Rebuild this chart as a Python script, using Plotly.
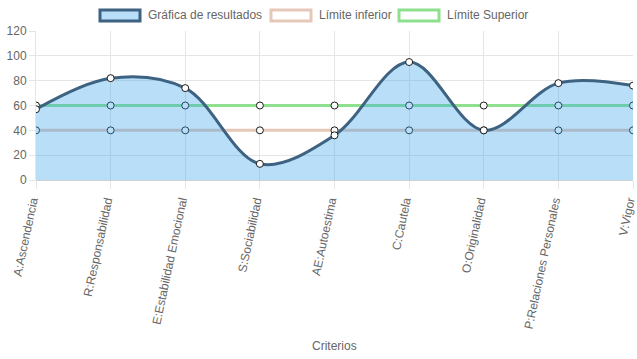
import plotly.graph_objects as go

categorias = ["A:Ascendencia", "R:Responsabilidad", "E:Estabilidad Emocional",
              "S:Sociabilidad", "AE:Autoestima", "C:Cautela", "O:Originalidad",
              "P:Relaciones Personales", "V:Vigor"]
resultados = [57, 82, 74, 13, 36, 95, 40, 78, 76]
limite_inferior = [40, 40, 40, 40, 40, 40, 40, 40, 40]
limite_superior = [60, 60, 60, 60, 60, 60, 60, 60, 60]
y_ticks = [0, 20, 40, 60, 80, 100, 120]
series_nombres = ["Gráfica de resultados", "Límite inferior", "Límite Superior"]

FONT = "Liberation Sans, Arial, sans-serif"
GRID = "#e5e5e5"
C_RES = "#3e6282"
C_FILL = "rgba(54,162,235,0.35)"
C_INF = "#e6c8b9"
C_SUP = "#8ee08e"

W, H = 637, 359
L, R, T, B = 36, 4, 31, 179
PW, PH = W - L - R, H - T - B


def px(x):
    return (x - L) / PW


def py(y):
    return (H - B - y) / PH


fig = go.Figure()

marker = dict(size=7, color="white", line=dict(color="#1a1a1a", width=1))

fig.add_trace(go.Scatter(x=categorias, y=limite_superior, mode="lines+markers",
                         line=dict(color=C_SUP, width=3), marker=marker,
                         name=series_nombres[2], showlegend=False, hoverinfo="skip"))
fig.add_trace(go.Scatter(x=categorias, y=limite_inferior, mode="lines+markers",
                         line=dict(color=C_INF, width=3), marker=marker,
                         name=series_nombres[1], showlegend=False, hoverinfo="skip"))
fig.add_trace(go.Scatter(x=categorias, y=resultados, mode="lines+markers",
                         line=dict(color=C_RES, width=3, shape="spline", smoothing=1.0),
                         fill="tozeroy", fillcolor=C_FILL, marker=marker,
                         name=series_nombres[0], showlegend=False, hoverinfo="skip"))

# Chart.js-style legend (boxes + labels)
shapes = []
annotations = []
legend_items = [(series_nombres[0], C_RES, "#b9def8", 100),
                (series_nombres[1], C_INF, "white", 271),
                (series_nombres[2], C_SUP, "white", 399)]
for name, lc, fc, x0 in legend_items:
    shapes.append(dict(type="rect", xref="paper", yref="paper",
                       x0=px(x0), x1=px(x0 + 40), y0=py(21), y1=py(10),
                       line=dict(color=lc, width=3), fillcolor=fc, layer="above"))
    annotations.append(dict(text=name, x=px(x0 + 46), y=py(15.5), xref="paper", yref="paper",
                            xanchor="left", yanchor="middle", showarrow=False,
                            font=dict(size=12, color="#666")))

annotations.append(dict(text="Criterios", x=0.5, xref="paper", y=py(346), yref="paper",
                        xanchor="center", yanchor="middle", showarrow=False,
                        font=dict(size=12, color="#666")))

fig.update_layout(
    width=W, height=H,
    margin=dict(l=L, r=R, t=T, b=B, autoexpand=False),
    plot_bgcolor="white", paper_bgcolor="white",
    font=dict(family=FONT, size=12, color="#666"),
    showlegend=False,
    xaxis=dict(type="category", range=[0, 8], showgrid=True, gridcolor=GRID,
               gridwidth=1, tickangle=-78, ticks="outside", ticklen=8,
               tickcolor=GRID, showline=False, zeroline=False, automargin=False,
               ticklabelshift=-4,
               tickfont=dict(size=12, color="#666")),
    yaxis=dict(range=[0, 120], tickvals=y_ticks, showgrid=True, gridcolor=GRID,
               gridwidth=1, ticks="outside", ticklen=6, tickcolor=GRID,
               showline=True, linecolor=GRID, zeroline=True, zerolinecolor="#d0d0d0",
               zerolinewidth=1, automargin=False,
               tickfont=dict(size=12, color="#666")),
    shapes=shapes,
    annotations=annotations,
)

fig.write_html("out.html", config={"displayModeBar": False},
               post_script="document.body.style.margin='0';document.body.style.padding='0';")
